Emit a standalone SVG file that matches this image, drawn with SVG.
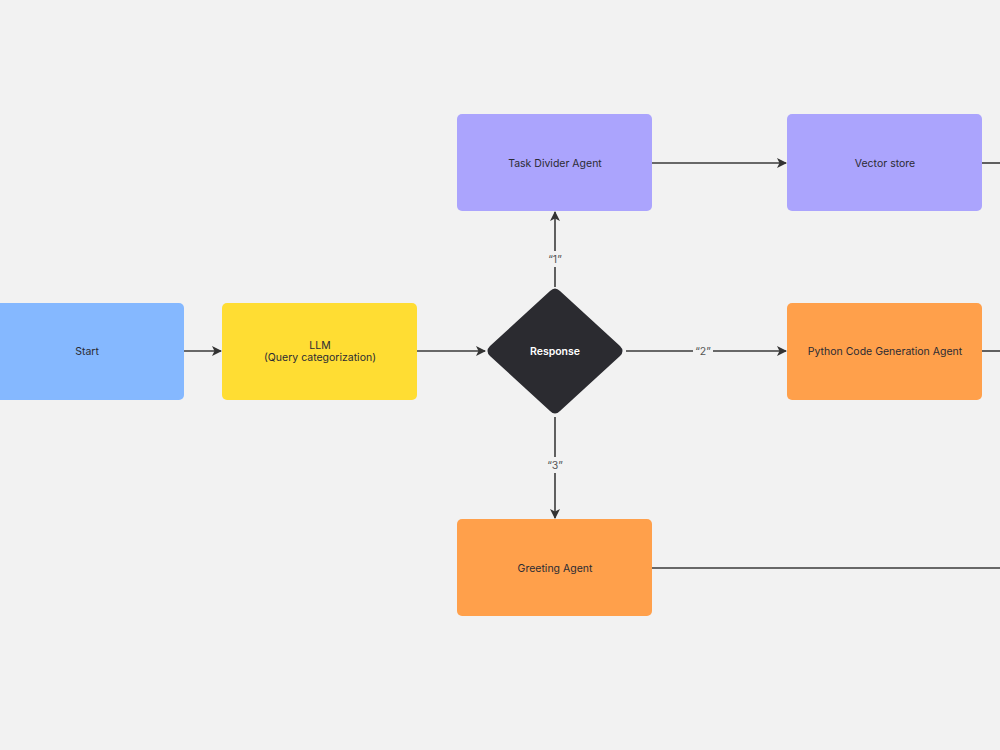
<svg xmlns="http://www.w3.org/2000/svg" width="1000" height="750" viewBox="0 0 1000 750">
<defs>
<marker id="arr" viewBox="0 0 10 10" refX="9" refY="5" markerWidth="10" markerHeight="10" markerUnits="userSpaceOnUse" orient="auto">
<path d="M0,0 L10,5 L0,10 L2.5,5 z" fill="#333333"/>
</marker>
<style>
.node text{font-family:Inter,"Noto Sans",sans-serif;font-size:10.5px;fill:#2b2b33;text-anchor:middle;dominant-baseline:central}
.edge{stroke:#3a3a3a;stroke-width:1.6;fill:none}
.lbl{font-family:Inter,"Noto Sans",sans-serif;font-size:10.5px;fill:#555555;text-anchor:middle;dominant-baseline:central}
.lblbg{fill:#f2f2f2}
</style>
</defs>
<rect width="1000" height="750" fill="#f2f2f2"/>
<g id="connectors">
<line class="edge" x1="184" y1="351" x2="221" y2="351" marker-end="url(#arr)"/>
<line class="edge" x1="417" y1="351" x2="485" y2="351" marker-end="url(#arr)"/>
<line class="edge" x1="555" y1="287" x2="555" y2="212" marker-end="url(#arr)"/>
<line class="edge" x1="626" y1="351" x2="786" y2="351" marker-end="url(#arr)"/>
<line class="edge" x1="555" y1="417" x2="555" y2="518" marker-end="url(#arr)"/>
<line class="edge" x1="652" y1="163" x2="786" y2="163" marker-end="url(#arr)"/>
<line class="edge" x1="982" y1="163" x2="1000" y2="163"/>
<line class="edge" x1="982" y1="351" x2="1000" y2="351"/>
<line class="edge" x1="652" y1="568" x2="1000" y2="568"/>
<rect class="lblbg" x="545" y="251" width="20" height="16"/>
<text class="lbl" x="555" y="259">“1”</text>
<rect class="lblbg" x="693" y="343" width="20" height="16"/>
<text class="lbl" x="703" y="351">“2”</text>
<rect class="lblbg" x="545" y="457" width="20" height="16"/>
<text class="lbl" x="555" y="465">“3”</text>
</g>
<g id="start" class="node">
<rect x="-11" y="303" width="195" height="97" rx="5" fill="#85b8ff"/>
<text x="87" y="351">Start</text>
</g>
<g id="llm" class="node">
<rect x="222" y="303" width="195" height="97" rx="5" fill="#ffdd33"/>
<text x="320" y="345">LLM</text>
<text x="320" y="357">(Query categorization)</text>
</g>
<g id="response" class="node">
<path d="M550,291 Q555,286 560,291 L620,346 Q625,351 620,356 L560,411 Q555,416 550,411 L490,356 Q485,351 490,346 Z" fill="#2b2b30"/>
<text x="555" y="351" style="fill:#ffffff;font-weight:600">Response</text>
</g>
<g id="task-divider" class="node">
<rect x="457" y="114" width="195" height="97" rx="5" fill="#aba4fd"/>
<text x="555" y="163">Task Divider Agent</text>
</g>
<g id="vector-store" class="node">
<rect x="787" y="114" width="195" height="97" rx="5" fill="#aba4fd"/>
<text x="885" y="163">Vector store</text>
</g>
<g id="python-agent" class="node">
<rect x="787" y="303" width="195" height="97" rx="5" fill="#ffa04b"/>
<text x="885" y="351">Python Code Generation Agent</text>
</g>
<g id="greeting-agent" class="node">
<rect x="457" y="519" width="195" height="97" rx="5" fill="#ffa04b"/>
<text x="555" y="568">Greeting Agent</text>
</g>
</svg>
